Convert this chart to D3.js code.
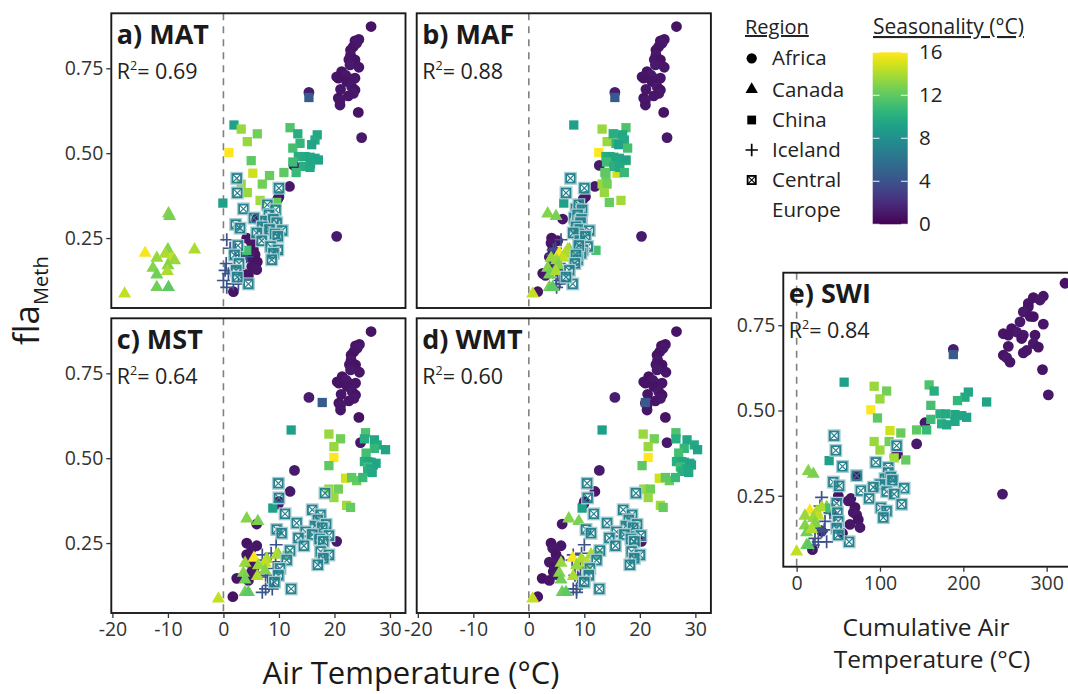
<!DOCTYPE html>
<html>
<head>
<meta charset="utf-8">
<script src="https://cdn.jsdelivr.net/npm/d3@7"></script>
<style>
  body { margin: 0; background: #fff; }
  svg { display: block; font-family: "Open Sans", sans-serif; }
</style>
</head>
<body>
<svg id="chart" width="1068" height="694"></svg>
<script>
// Each row: [flaMeth, seasonality (°C), MAT, MAF, MST, WMT, SWI]
const africa = [
  [0.873, 0.8, 26.6, 26.6, 26.6, 26.6, 322],
  [0.835, 0.9, 24.4, 24.4, 24.5, 24.6, 296],
  [0.831, 0.8, 23.7, 23.7, 23.8, 23.9, 284],
  [0.824, 1.0, 24.0, 24.0, 24.1, 24.2, 292],
  [0.814, 0.9, 23.4, 23.4, 23.5, 23.6, 278],
  [0.804, 0.8, 22.9, 22.9, 23.0, 23.1, 278],
  [0.789, 1.0, 22.9, 22.9, 23.0, 23.2, 272],
  [0.776, 0.9, 22.6, 22.6, 22.7, 22.9, 280],
  [0.775, 0.8, 23.7, 23.7, 23.8, 24.0, 284],
  [0.760, 1.1, 22.8, 22.8, 22.9, 23.1, 268],
  [0.753, 0.9, 24.4, 24.4, 24.5, 24.7, 296],
  [0.740, 0.8, 21.3, 21.3, 21.4, 21.6, 258],
  [0.730, 1.0, 22.0, 22.0, 22.1, 22.3, 264],
  [0.725, 0.9, 20.4, 20.4, 20.5, 20.7, 248],
  [0.721, 0.8, 20.7, 20.7, 20.8, 21.0, 254],
  [0.721, 1.0, 22.5, 22.5, 22.6, 22.8, 272],
  [0.721, 0.9, 23.7, 23.7, 23.8, 24.0, 286],
  [0.711, 0.8, 22.2, 22.2, 22.3, 22.5, 270],
  [0.696, 1.0, 23.1, 23.1, 23.2, 23.4, 284],
  [0.688, 0.9, 21.1, 21.1, 21.2, 21.4, 254],
  [0.686, 0.8, 23.7, 23.7, 23.8, 24.0, 290],
  [0.676, 1.0, 23.4, 23.4, 23.5, 23.7, 276],
  [0.669, 0.9, 22.5, 22.5, 22.6, 22.8, 272],
  [0.662, 0.8, 20.7, 20.7, 20.8, 21.0, 248],
  [0.655, 1.0, 21.0, 21.0, 21.1, 21.3, 252],
  [0.642, 0.9, 21.0, 21.0, 21.1, 21.3, 256],
  [0.620, 0.8, 24.3, 24.3, 24.4, 24.6, 295],
  [0.546, 1.0, 24.9, 24.9, 24.7, 24.9, 302],
  [0.679, 1.2, 15.4, 15.5, 15.4, 15.5, 188],
  [0.464, 1.1, 12.7, 12.7, 12.8, 12.7, 154],
  [0.402, 1.0, 11.9, 11.9, 12.0, 11.9, 144],
  [0.372, 0.9, 10.0, 10.2, 10.0, 10.0, 121],
  [0.365, 1.0, 9.8, 9.8, 9.9, 9.9, 118],
  [0.306, 0.9, 6.0, 6.1, 6.0, 6.0, 72],
  [0.255, 1.1, 20.4, 20.3, 20.4, 20.3, 247],
  [0.250, 0.8, 4.2, 4.1, 4.2, 4.0, 50],
  [0.242, 0.9, 4.9, 5.2, 6.0, 5.8, 65],
  [0.235, 1.0, 5.1, 4.0, 5.1, 4.3, 62],
  [0.216, 0.8, 5.4, 4.3, 4.2, 4.9, 70],
  [0.201, 0.9, 5.7, 4.8, 5.1, 5.5, 68],
  [0.194, 1.0, 4.8, 3.7, 4.5, 3.7, 72],
  [0.180, 0.8, 6.1, 5.0, 5.6, 4.6, 74],
  [0.166, 0.9, 5.1, 4.3, 5.1, 4.4, 64],
  [0.157, 1.0, 6.0, 5.2, 5.7, 5.0, 76],
  [0.146, 0.8, 3.6, 2.5, 2.4, 2.4, 30],
  [0.140, 0.9, 4.5, 3.0, 4.5, 3.7, 55],
  [0.092, 0.8, 1.8, 1.6, 1.7, 1.6, 19]
];

const canada = [
  [0.322, 13.0, -9.9, 3.4, 4.2, 7.2, 14],
  [0.314, 12.8, -9.7, 4.9, 6.2, 9.0, 20],
  [0.206, 15.8, -14.1, 5.5, 5.5, 7.9, 16],
  [0.191, 13.5, -12.0, 4.0, 3.9, 5.8, 10],
  [0.216, 13.0, -10.0, 7.3, 9.9, 11.8, 36],
  [0.203, 14.0, -10.5, 6.5, 7.8, 9.5, 24],
  [0.191, 14.5, -9.3, 6.2, 7.5, 10.5, 26],
  [0.184, 13.5, -8.8, 5.0, 6.3, 8.6, 20],
  [0.216, 14.0, -5.2, 7.0, 9.6, 11.2, 30],
  [0.162, 13.0, -12.7, 3.4, 3.6, 5.5, 10],
  [0.169, 13.0, -10.0, 5.3, 7.5, 10.8, 22],
  [0.142, 12.5, -12.0, 3.7, 3.9, 5.8, 12],
  [0.152, 14.0, -10.1, 4.9, 6.1, 8.0, 18],
  [0.105, 12.5, -12.0, 3.7, 3.9, 6.0, 12],
  [0.105, 12.0, -9.9, 4.3, 4.5, 6.7, 14],
  [0.086, 14.5, -17.8, 0.7, -0.9, 0.7, 0]
];

const china = [
  [0.664, 4.5, 15.4, 15.5, 17.8, 21.0, 188],
  [0.583, 9.0, 1.9, 8.1, 12.2, 13.2, 57],
  [0.571, 13.5, 3.2, 13.2, 19.0, 20.6, 93],
  [0.575, 11.5, 12.0, 17.5, 25.6, 26.5, 159],
  [0.557, 12.5, 6.1, 15.3, 21.1, 22.6, 108],
  [0.534, 13.5, 4.3, 14.1, 19.9, 21.5, 100],
  [0.502, 16.0, 1.0, 12.6, 19.9, 21.5, 89],
  [0.478, 12.0, 5.0, 17.5, 19.0, 20.4, 97],
  [0.441, 14.8, 5.3, 15.9, 22.0, 23.5, 112],
  [0.434, 12.3, 8.3, 13.9, 24.0, 25.3, 125],
  [0.409, 13.5, 3.2, 13.2, 19.0, 20.7, 93],
  [0.409, 12.5, 7.0, 14.1, 20.7, 21.9, 111],
  [0.384, 13.5, 4.3, 13.6, 19.9, 21.5, 100],
  [0.361, 13.8, 6.6, 16.6, 22.2, 23.7, 117],
  [0.355, 12.2, 9.6, 14.5, 22.9, 24.2, 131],
  [0.353, 9.0, -0.1, 6.3, 8.9, 9.6, 39],
  [0.214, 11.3, 4.2, 12.1, 11.5, 12.5, 40],
  [0.557, 10.0, 13.4, 15.2, 25.4, 26.5, 165],
  [0.554, 9.5, 16.9, 16.9, 27.2, 28.5, 206],
  [0.539, 9.7, 16.5, 17.2, 27.7, 29.8, 202],
  [0.529, 10.5, 13.8, 15.7, 27.2, 28.0, 193],
  [0.525, 9.3, 15.9, 16.2, 29.2, 30.4, 228],
  [0.515, 11.2, 12.5, 17.8, 25.7, 27.0, 161],
  [0.490, 10.0, 13.5, 13.9, 25.4, 26.6, 172],
  [0.490, 9.7, 14.7, 14.6, 26.0, 27.5, 179],
  [0.488, 9.5, 15.6, 15.3, 26.6, 28.0, 190],
  [0.485, 9.5, 16.5, 16.3, 27.5, 29.0, 198],
  [0.480, 9.3, 17.1, 17.5, 27.0, 29.3, 204],
  [0.474, 11.0, 12.5, 14.0, 26.0, 27.3, 161],
  [0.468, 9.5, 15.7, 16.0, 26.5, 28.4, 190],
  [0.461, 10.0, 14.4, 15.3, 26.0, 27.6, 174],
  [0.458, 9.6, 15.6, 16.4, 26.8, 28.8, 180],
  [0.443, 10.8, 13.1, 17.2, 25.1, 26.4, 156],
  [0.443, 12.0, 10.9, 13.7, 23.1, 24.6, 144]
];

const iceland = [
  [0.245, 4.0, 0.6, 5.8, 9.5, 10.0, 30],
  [0.220, 4.0, 1.2, 4.8, 8.6, 9.5, 28],
  [0.200, 4.2, 3.3, 4.3, 7.5, 7.8, 40],
  [0.195, 4.0, 4.2, 5.2, 9.4, 9.8, 46],
  [0.215, 3.8, 2.1, 4.4, 7.0, 8.0, 36],
  [0.175, 4.0, 0.5, 5.5, 9.0, 9.3, 34],
  [0.155, 4.1, 0.3, 4.9, 7.6, 8.3, 26],
  [0.145, 4.0, 0.9, 5.2, 9.0, 9.0, 30],
  [0.150, 3.9, 1.5, 4.4, 8.0, 8.8, 33],
  [0.125, 4.0, 0.0, 5.6, 8.2, 9.2, 22],
  [0.105, 4.2, 0.6, 5.0, 7.0, 8.6, 20],
  [0.115, 4.0, 1.8, 4.9, 7.6, 8.0, 26],
  [0.115, 3.9, 2.7, 5.5, 8.8, 8.6, 36]
];

const centralEurope = [
  [0.426, 7.0, 2.4, 7.5, 9.9, 10.5, 45],
  [0.383, 7.0, 2.5, 6.7, 10.0, 10.6, 47],
  [0.397, 7.2, 10.0, 10.0, 18.3, 19.3, 120],
  [0.336, 7.0, 3.6, 8.5, 11.1, 11.7, 55],
  [0.348, 7.1, 7.9, 9.0, 16.0, 17.0, 95],
  [0.333, 7.0, 9.4, 9.6, 17.5, 18.6, 110],
  [0.309, 7.0, 5.5, 8.2, 13.2, 14.1, 72],
  [0.290, 6.9, 2.2, 8.6, 9.6, 10.3, 44],
  [0.279, 7.0, 3.0, 9.0, 10.5, 11.2, 51],
  [0.318, 7.1, 8.2, 8.8, 17.0, 18.0, 110],
  [0.300, 7.0, 7.6, 9.2, 16.5, 17.5, 106],
  [0.305, 7.2, 9.0, 9.5, 18.5, 19.5, 113],
  [0.295, 7.0, 9.6, 9.3, 17.8, 18.8, 115],
  [0.283, 7.0, 7.0, 8.5, 14.8, 15.8, 100],
  [0.275, 7.1, 8.3, 9.2, 16.0, 17.2, 92],
  [0.272, 7.2, 10.6, 10.9, 19.0, 20.2, 129],
  [0.262, 7.0, 9.3, 9.0, 17.3, 18.4, 108],
  [0.265, 7.0, 6.0, 8.0, 13.5, 14.5, 77],
  [0.242, 7.0, 6.9, 9.2, 14.5, 15.6, 87],
  [0.255, 7.1, 9.8, 10.2, 18.0, 19.0, 117],
  [0.225, 7.0, 8.5, 10.6, 17.5, 18.5, 126],
  [0.215, 7.0, 9.8, 9.7, 19.0, 20.0, 101],
  [0.205, 7.1, 9.0, 9.4, 18.0, 19.0, 108],
  [0.186, 7.0, 8.7, 8.8, 17.0, 18.2, 104],
  [0.115, 7.0, 4.5, 7.9, 12.2, 12.7, 63],
  [0.228, 6.9, 2.6, 9.0, 12.0, 12.8, 48],
  [0.200, 7.0, 2.0, 8.5, 11.4, 12.2, 49],
  [0.175, 7.0, 2.8, 8.3, 10.2, 11.0, 50],
  [0.155, 6.9, 2.3, 7.3, 9.9, 10.8, 48],
  [0.135, 7.0, 2.5, 6.7, 9.2, 10.0, 50]
];

const regionNames = ["Africa", "Canada", "China", "Iceland", "Central Europe"];
const panelTitles = ["a) MAT", "b) MAF", "c) MST", "d) WMT", "e) SWI"];
const rSquared = ["0.69", "0.88", "0.64", "0.60", "0.84"];
const tempTicks = [-20, -10, 0, 10, 20, 30];
const swiTicks = [0, 100, 200, 300];
const flaTicks = [0.25, 0.50, 0.75];
const seasonTicks = [0, 4, 8, 12, 16];

// ---------------------------------------------------------------------------
const svg = d3.select("#chart");
const ink = "#1a1a1a";
const tickInk = "#333";
const color = d3.scaleSequential(d3.interpolateViridis).domain([0, 16]);

const regionData = {
  "Africa": africa,
  "Canada": canada,
  "China": china,
  "Iceland": iceland,
  "Central Europe": centralEurope
};
// draw order within a panel
const drawOrder = ["Africa", "Iceland", "Canada", "China", "Central Europe"];

const W = 294.2, H = 294.7;
const panels = [
  { i: 0, col: 2, x: 111.3, y: 13.3, yAxis: true,  xAxis: false, kind: "temp" },
  { i: 1, col: 3, x: 416.7, y: 13.3, yAxis: false, xAxis: false, kind: "temp" },
  { i: 2, col: 4, x: 111.3, y: 318.3, yAxis: true,  xAxis: true, kind: "temp" },
  { i: 3, col: 5, x: 416.7, y: 318.3, yAxis: false, xAxis: true, kind: "temp" },
  { i: 4, col: 6, x: 783.3, y: 272.7, yAxis: true,  xAxis: true, kind: "swi" }
];

function markPath(region, s) {
  switch (region) {
    case "Africa": return d3.symbol(d3.symbolCircle, 92 * s * s)();
    case "Canada": return d3.symbol(d3.symbolTriangle, 74 * s * s)();
    case "China": return d3.symbol(d3.symbolSquare, 86 * s * s)();
    default: return null;
  }
}

function drawMark(g, region, cx, cy, fill, s, halo) {
  s = s || 1;
  if (region === "Iceland") {
    const a = 6.5 * s;
    g.append("path")
      .attr("d", `M${cx - a},${cy}H${cx + a}M${cx},${cy - a}V${cy + a}`)
      .attr("stroke", fill).attr("stroke-width", 1.7).attr("fill", "none");
  } else if (region === "Central Europe") {
    const h = 4.3 * s;
    if (halo) {
      const o = h + 1.5;
      g.append("rect")
        .attr("x", cx - o).attr("y", cy - o).attr("width", 2 * o).attr("height", 2 * o)
        .attr("fill", "none").attr("stroke", d3.interpolateRgb(fill, "#fff")(0.6))
        .attr("stroke-width", 1.4);
    }
    g.append("rect")
      .attr("x", cx - h).attr("y", cy - h).attr("width", 2 * h).attr("height", 2 * h)
      .attr("fill", "none").attr("stroke", fill).attr("stroke-width", 1.8);
    g.append("path")
      .attr("d", `M${cx - h},${cy - h}L${cx + h},${cy + h}M${cx + h},${cy - h}L${cx - h},${cy + h}`)
      .attr("stroke", fill).attr("stroke-width", 1.2).attr("fill", "none");
  } else {
    g.append("path")
      .attr("transform", `translate(${cx},${cy})`)
      .attr("d", markPath(region, s))
      .attr("fill", fill);
  }
}

panels.forEach(p => {
  const g = svg.append("g").attr("transform", `translate(${p.x},${p.y})`);
  const x = p.kind === "temp"
    ? d3.scaleLinear().domain([-20.2, 32.8]).range([0, W])
    : d3.scaleLinear().domain([-16, 337]).range([0, W]);
  const y = p.kind === "temp"
    ? d3.scaleLinear().domain([0.044, 0.912]).range([H, 0])
    : d3.scaleLinear().domain([0.042, 0.904]).range([294, 0]);
  const h = y.range()[0];

  // zero reference line
  g.append("line")
    .attr("x1", x(0)).attr("x2", x(0)).attr("y1", 0).attr("y2", h)
    .attr("stroke", "#808080").attr("stroke-width", 1.6)
    .attr("stroke-dasharray", "7,6");

  const pts = g.append("g");
  drawOrder.forEach(name => {
    regionData[name].forEach(r => {
      drawMark(pts, name, x(r[p.col]), y(r[0]), color(r[1]), 1, true);
    });
  });

  // panel frame
  g.append("rect")
    .attr("x", 0).attr("y", 0).attr("width", W).attr("height", h)
    .attr("fill", "none").attr("stroke", ink).attr("stroke-width", 1.9);

  if (p.yAxis) {
    const ay = g.append("g")
      .call(d3.axisLeft(y).tickValues(flaTicks).tickFormat(d3.format(".2f")).tickSize(5).tickPadding(3));
    ay.select(".domain").remove();
    ay.selectAll("line").attr("stroke", tickInk).attr("stroke-width", 1.3);
    ay.selectAll("text").attr("fill", "#333").style("font-size", "19.5px")
      .style("font-family", "'Open Sans', sans-serif");
  }
  if (p.xAxis) {
    const ax = g.append("g").attr("transform", `translate(0,${h})`)
      .call(d3.axisBottom(x).tickValues(p.kind === "temp" ? tempTicks : swiTicks)
        .tickFormat(d => String(d)).tickSize(5).tickPadding(4));
    ax.select(".domain").remove();
    ax.selectAll("line").attr("stroke", tickInk).attr("stroke-width", 1.3);
    ax.selectAll("text").attr("fill", "#333").style("font-size", "19.5px")
      .style("font-family", "'Open Sans', sans-serif");
  }

  g.append("text")
    .attr("x", 5.5).attr("y", 30.5)
    .attr("fill", ink).style("font-size", "27px").style("font-weight", "700")
    .text(panelTitles[p.i]);

  const rt = g.append("text")
    .attr("x", 5.5).attr("y", 65.5)
    .attr("fill", "#222").style("font-size", "21.5px");
  rt.append("tspan").text("R");
  rt.append("tspan").attr("dy", -9).style("font-size", "12.5px").text("2");
  rt.append("tspan").attr("dy", 9).text("= " + rSquared[p.i]);
});

// axis titles
const yt = svg.append("text")
  .attr("transform", "translate(39,345) rotate(-90)")
  .attr("fill", ink).style("font-size", "35px");
yt.append("tspan").text("fla");
yt.append("tspan").attr("dy", 9).style("font-size", "20px").text("Meth");

svg.append("text")
  .attr("x", 411).attr("y", 684).attr("text-anchor", "middle")
  .attr("fill", ink).style("font-size", "31px")
  .text("Air Temperature (°C)");

svg.append("text")
  .attr("x", 926).attr("y", 636).attr("text-anchor", "middle")
  .attr("fill", "#222").style("font-size", "24.5px")
  .text("Cumulative Air");
svg.append("text")
  .attr("x", 932).attr("y", 668).attr("text-anchor", "middle")
  .attr("fill", "#222").style("font-size", "24.5px")
  .text("Temperature (°C)");

// region legend
const lg = svg.append("g");
lg.append("text").attr("x", 745).attr("y", 34)
  .attr("fill", "#222").style("font-size", "20px").style("text-decoration", "underline")
  .text("Region");
const legendY = [58.3, 89.5, 120, 150, 180];
regionNames.forEach((name, k) => {
  drawMark(lg, name, 751.7, legendY[k], "#000", 0.95, false);
  const t = lg.append("text").attr("x", 772).attr("y", legendY[k] + 7)
    .attr("fill", "#222").style("font-size", "20.5px");
  if (name === "Central Europe") {
    t.append("tspan").text("Central");
    t.append("tspan").attr("x", 772).attr("dy", 29.5).text("Europe");
  } else {
    t.text(name);
  }
});

// seasonality colour bar
const cb = svg.append("g");
cb.append("text").attr("x", 873).attr("y", 34)
  .attr("fill", "#222").style("font-size", "21px").style("text-decoration", "underline")
  .text("Seasonality (°C)");
const cScale = d3.scaleLinear().domain([0, 16]).range([224.3, 52.3]);
const grad = svg.append("defs").append("linearGradient")
  .attr("id", "viridisBar").attr("x1", 0).attr("y1", 1).attr("x2", 0).attr("y2", 0);
d3.range(0, 1.0001, 0.05).forEach(t => {
  grad.append("stop").attr("offset", t).attr("stop-color", d3.interpolateViridis(t));
});
cb.append("rect")
  .attr("x", 872.7).attr("y", cScale(16)).attr("width", 35).attr("height", cScale(0) - cScale(16))
  .attr("fill", "url(#viridisBar)");
seasonTicks.forEach(v => {
  const yy = cScale(v);
  cb.append("line").attr("x1", 872.7).attr("x2", 879.5).attr("y1", yy).attr("y2", yy)
    .attr("stroke", "#fff").attr("stroke-width", 1.1).attr("opacity", 0.85);
  cb.append("line").attr("x1", 901).attr("x2", 907.7).attr("y1", yy).attr("y2", yy)
    .attr("stroke", "#fff").attr("stroke-width", 1.1).attr("opacity", 0.85);
  cb.append("text").attr("x", 919).attr("y", yy + 7)
    .attr("fill", "#222").style("font-size", "20.5px").text(v);
});
</script>
</body>
</html>
